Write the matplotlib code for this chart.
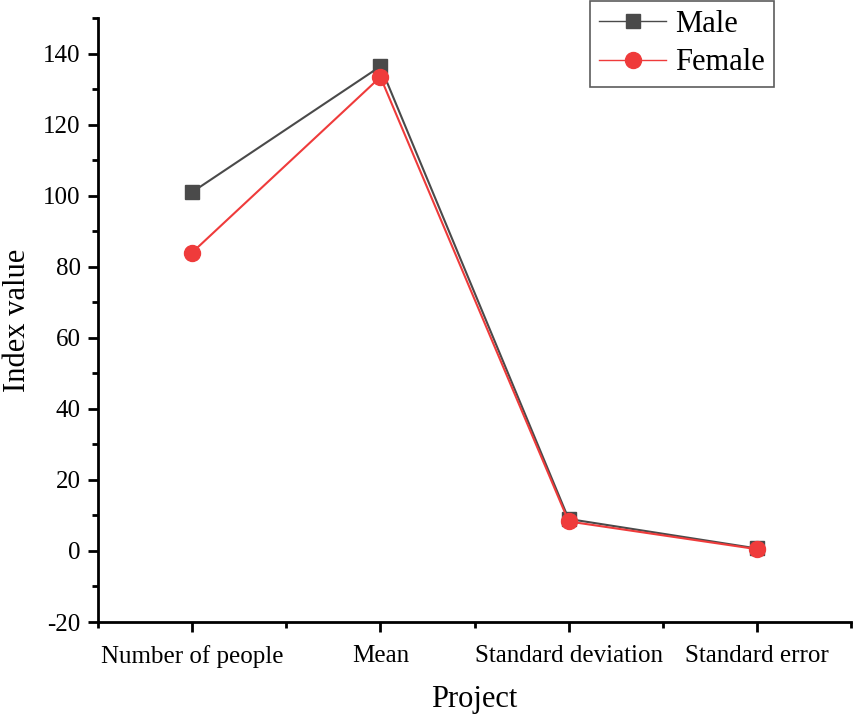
import numpy as np
import matplotlib as mpl
mpl.use('Agg')
from matplotlib import pyplot as plt
from matplotlib.ticker import MultipleLocator

categories = ['Number of people', 'Mean', 'Standard deviation', 'Standard error']
male = [101, 136.4, 9.0, 0.7]
female = [84, 133.4, 8.3, 0.5]

plt.rcParams['font.family'] = ['Liberation Serif', 'DejaVu Serif']
plt.rcParams['axes.unicode_minus'] = False

fig = plt.figure(figsize=(8.54, 7.21), dpi=100)
ax = fig.add_axes([0.1148, 0.1373, 0.8817, 0.8377])

x = np.arange(1, len(categories) + 1)
ax.plot(x, male, color='#4a4a4a', lw=1.5, marker='s', ms=9.5, label='Male')
ax.plot(x, female, color='#ef3b3b', lw=1.5, marker='o', ms=11.5, label='Female')

ax.set_xlim(0.5, 4.5)
ax.set_ylim(-20, 150)
ax.set_xticks(x)
ax.set_xticklabels(categories)
ax.xaxis.set_minor_locator(MultipleLocator(0.5))
ax.yaxis.set_major_locator(MultipleLocator(20))
ax.yaxis.set_minor_locator(MultipleLocator(10))

for s in ['top', 'right']:
    ax.spines[s].set_visible(False)
for s in ['left', 'bottom']:
    ax.spines[s].set_linewidth(2)
ax.tick_params(which='major', direction='out', length=7.5, width=2, labelsize=18)
ax.tick_params(which='minor', direction='out', length=4, width=2)
ax.tick_params(axis='x', pad=9)
ax.tick_params(axis='y', pad=5)

ax.set_xlabel('Project', fontsize=22, labelpad=12)
ax.set_ylabel('Index value', fontsize=22, labelpad=8)

leg = ax.legend(loc='upper left', bbox_to_anchor=(590 / 854, 1 - 1 / 721),
                bbox_transform=fig.transFigure, fontsize=22, frameon=True,
                fancybox=False, edgecolor='#333333', borderpad=0.3,
                handlelength=2.2, handletextpad=0.3, labelspacing=0.3,
                borderaxespad=0)
leg.get_frame().set_linewidth(1.2)
for line in leg.get_lines():
    line.set_linewidth(1)

plt.savefig('out.png', dpi=100)
